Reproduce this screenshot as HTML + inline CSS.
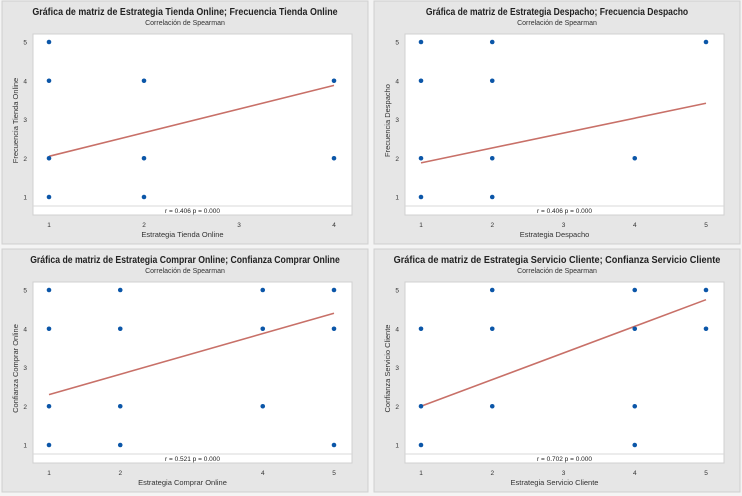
<!DOCTYPE html>
<html><head><meta charset="utf-8"><style>
html,body{margin:0;padding:0;background:#f4f4f4;}
svg{display:block;font-family:"Liberation Sans",sans-serif;}
</style></head><body>
<svg id="c" width="742" height="496" viewBox="0 0 742 496"></svg>
<script>
const titles=["Gráfica de matriz de Estrategia Tienda Online; Frecuencia Tienda Online","Gráfica de matriz de Estrategia Despacho; Frecuencia Despacho","Gráfica de matriz de Estrategia Comprar Online; Confianza Comprar Online","Gráfica de matriz de Estrategia Servicio Cliente; Confianza Servicio Cliente"];
const xTitles=["Estrategia Tienda Online","Estrategia Despacho","Estrategia Comprar Online","Estrategia Servicio Cliente"];
const yTitles=["Frecuencia Tienda Online","Frecuencia Despacho","Confianza Comprar Online","Confianza Servicio Cliente"];
const xTicks=[[1,2,3,4],[1,2,3,4,5],[1,2,4,5],[1,2,3,4,5]];
const yTicks=[1,2,3,4,5];
const px1=[1,1,1,1,2,2,2,4,4];
const py1=[5,4,2,1,4,2,1,4,2];
const px2=[1,1,1,1,2,2,2,2,4,5];
const py2=[5,4,2,1,5,4,2,1,2,5];
const px3=[1,1,1,1,2,2,2,2,4,4,4,5,5,5];
const py3=[5,4,2,1,5,4,2,1,5,4,2,5,4,1];
const px4=[1,1,1,2,2,2,4,4,4,4,5,5];
const py4=[4,2,1,5,4,2,5,4,2,1,5,4];
const fitStart=[2.05,1.88,2.3,2.0];
const fitEnd=[3.88,3.42,4.4,4.75];
const rVals=["0.406","0.406","0.521","0.702"];
const pVals=["0.000","0.000","0.000","0.000"];
const PX=[px1,px2,px3,px4], PY=[py1,py2,py3,py4];
const origins=[[2,1],[374,1],[2,249],[374,249]];
const NS="http://www.w3.org/2000/svg";
const svg=document.getElementById('c');
function mk(tag,attrs,parent,text){const e=document.createElementNS(NS,tag);for(const k in attrs)e.setAttribute(k,attrs[k]);if(text!==undefined)e.textContent=text;parent.appendChild(e);return e;}
for(let i=0;i<4;i++){
  const [ox,oy]=origins[i];
  const g=mk('g',{transform:`translate(${ox},${oy})`},svg);
  
  
  const bg=mk('rect',{x:0,y:0,width:366,height:243,fill:'#e6e6e6',stroke:'#cfcfcf'},g);
  
  const t=mk('text',{x:183,y:14,'text-anchor':'middle','font-size':'10','font-weight':'bold',fill:'#222',textLength:(titles[i].length*4.3).toFixed(1),lengthAdjust:'spacingAndGlyphs'},g,titles[i]);
  
  const st=mk('text',{x:183,y:24,'text-anchor':'middle','font-size':'7',fill:'#333'},g,'Correlación de Spearman');
  
  const L=31,R=350,T=33,B=214;
  const xs=xTicks[i], xmin=xs[0], xmax=xs[xs.length-1];
  const X=v=>47+(v-xmin)/(xmax-xmin)*285;
  const Y=v=>196-(v-1)/4*155;
  const pa=mk('rect',{x:L,y:T,width:R-L,height:B-T,fill:'#fff',stroke:'#d0d0d0'},g);
  
  mk('line',{x1:L,x2:R,y1:205,y2:205,stroke:'#d8d8d8'},g);
  const rt=mk('text',{x:(L+R)/2,y:212,'text-anchor':'middle','font-size':'6.5',fill:'#222'},g,`r = ${rVals[i]}  p = ${pVals[i]}`);
  
  xs.forEach(v=>{
    const tl=mk('text',{x:X(v),y:B+12,'text-anchor':'middle','font-size':'6.5',fill:'#333'},g,String(v));
    
  });
  yTicks.forEach(v=>{
    const tl=mk('text',{x:L-6,y:Y(v)+2.5,'text-anchor':'end','font-size':'6.5',fill:'#333'},g,String(v));
    
  });
  const xt=mk('text',{x:(L+R)/2-10,y:236,'text-anchor':'middle','font-size':'7.5',fill:'#333'},g,xTitles[i]);
  
  const yt=mk('text',{x:0,y:0,'text-anchor':'middle','font-size':'7.5',fill:'#333',transform:`translate(16,${(T+B)/2-4}) rotate(-90)`},g,yTitles[i]);
  
  const fl=mk('line',{x1:X(xmin),y1:Y(fitStart[i]),x2:X(xmax),y2:Y(fitEnd[i]),stroke:'#c87068','stroke-width':'1.6'},g);
  
  PX[i].forEach((xv,j)=>{
    const c=mk('circle',{cx:X(xv),cy:Y(PY[i][j]),r:2.3,fill:'#0b56a8'},g);
    
  });
}
</script>
</body></html>
